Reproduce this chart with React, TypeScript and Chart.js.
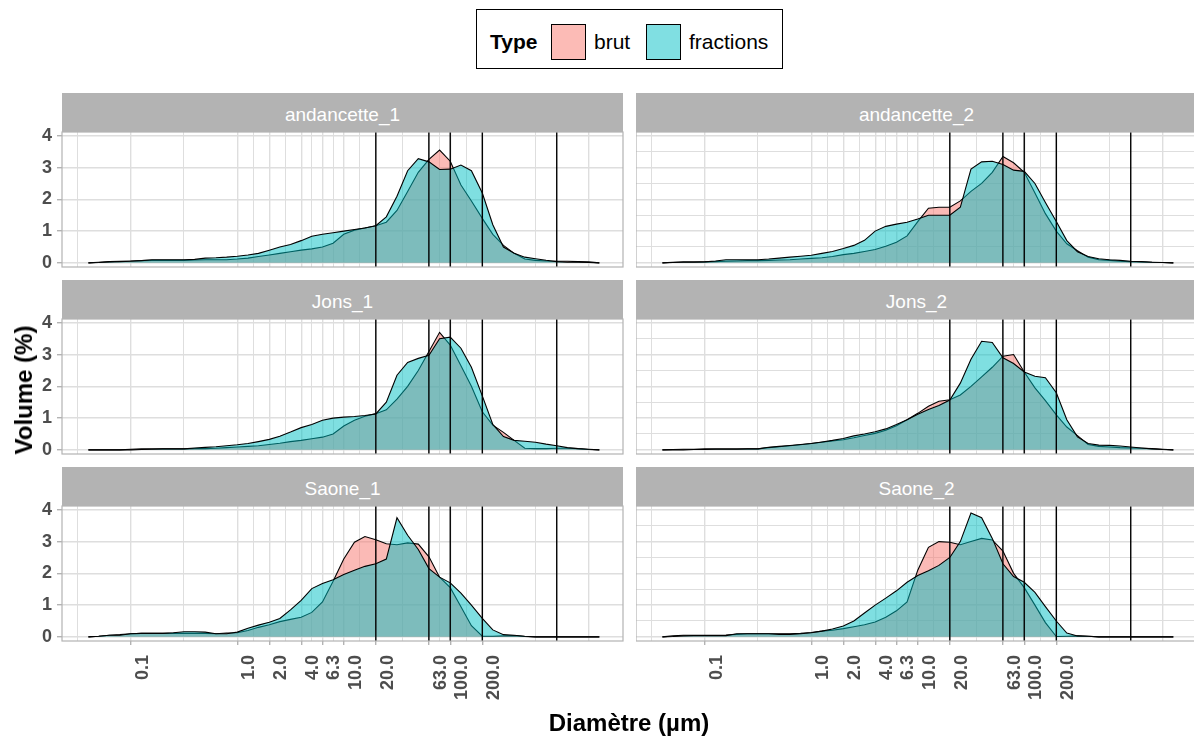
import React, { useEffect, useRef } from "react";
import { Chart, registerables } from "chart.js";

Chart.register(...registerables);
Chart.defaults.font.family = "'Liberation Sans', Arial, sans-serif";

// ---------- DATA ----------
const diameters = [
  0.04, 0.05, 0.063, 0.079, 0.1, 0.126, 0.158, 0.2, 0.251, 0.316,
  0.398, 0.5, 0.631, 0.794, 1.0, 1.26, 1.58, 2.0, 2.51, 3.16,
  3.98, 5.01, 6.31, 7.94, 10, 12.6, 15.8, 20, 25.1, 31.6,
  39.8, 50.1, 63.1, 79.4, 100, 126, 158, 200, 251, 316,
  398, 501, 631, 794, 1000, 1259, 1585, 1995, 2512,
];

const andancette1Brut = [
  0, 0.02, 0.04, 0.05, 0.06, 0.07, 0.08, 0.08, 0.08, 0.08,
  0.09, 0.1, 0.1, 0.1, 0.12, 0.15, 0.2, 0.25, 0.3, 0.35,
  0.4, 0.44, 0.5, 0.62, 0.9, 1.03, 1.1, 1.17, 1.28, 1.65,
  2.25, 2.85, 3.26, 3.55, 3.2, 2.45, 1.95, 1.4, 0.9, 0.55,
  0.3, 0.12, 0.08, 0.06, 0.05, 0.05, 0.04, 0.03, 0,
];
const andancette1Fractions = [
  0, 0.01, 0.03, 0.04, 0.05, 0.07, 0.1, 0.1, 0.1, 0.1,
  0.11, 0.15, 0.16, 0.18, 0.21, 0.25, 0.3, 0.4, 0.5, 0.58,
  0.7, 0.84, 0.9, 0.95, 1.0, 1.05, 1.1, 1.17, 1.45, 2.1,
  2.9, 3.28, 3.18, 2.94, 2.95, 3.08, 2.9, 2.2, 1.2, 0.5,
  0.3, 0.18, 0.13, 0.08, 0.04, 0.02, 0.02, 0.01, 0,
];

const andancette2Brut = [
  0, 0.02, 0.03, 0.03, 0.03, 0.04, 0.05, 0.06, 0.07, 0.07,
  0.08, 0.09, 0.1, 0.12, 0.14, 0.16, 0.2, 0.26, 0.3, 0.36,
  0.42, 0.52, 0.65, 0.85, 1.3, 1.72, 1.75, 1.75, 1.95, 2.25,
  2.5, 2.85, 3.35, 3.15, 2.85, 2.2, 1.55, 1.0, 0.6, 0.38,
  0.18, 0.1, 0.08, 0.05, 0.04, 0.03, 0.02, 0.01, 0,
];
const andancette2Fractions = [
  0, 0.01, 0.02, 0.02, 0.03, 0.06, 0.1, 0.1, 0.1, 0.1,
  0.12, 0.15, 0.18, 0.21, 0.24, 0.3, 0.36, 0.45, 0.55, 0.71,
  1.0, 1.15, 1.22, 1.28, 1.38, 1.5, 1.5, 1.5, 1.75, 2.95,
  3.18, 3.2, 3.1, 2.92, 2.88, 2.5, 1.9, 1.3, 0.7, 0.35,
  0.2, 0.13, 0.1, 0.08, 0.05, 0.04, 0.02, 0.01, 0,
];

const jons1Brut = [
  0, 0, 0, 0, 0.02, 0.03, 0.03, 0.03, 0.03, 0.03,
  0.04, 0.04, 0.05, 0.07, 0.09, 0.11, 0.13, 0.17, 0.21, 0.26,
  0.3, 0.35, 0.4, 0.5, 0.75, 0.93, 1.06, 1.14, 1.26, 1.6,
  2.0, 2.5, 3.1, 3.7, 3.3, 2.65, 2.0, 1.2, 0.78, 0.55,
  0.3, 0.05, 0.04, 0.04, 0.05, 0.05, 0.04, 0.01, 0,
];
const jons1Fractions = [
  0, 0, 0, 0, 0, 0.01, 0.02, 0.03, 0.03, 0.03,
  0.06, 0.08, 0.1, 0.13, 0.16, 0.2, 0.26, 0.33, 0.43, 0.56,
  0.7, 0.8, 0.93, 1.0, 1.03, 1.05, 1.08, 1.13, 1.5, 2.35,
  2.75, 2.88, 2.98, 3.5, 3.55, 3.2, 2.6, 1.7, 0.8, 0.42,
  0.3, 0.27, 0.24, 0.18, 0.13, 0.07, 0.04, 0.02, 0,
];

const jons2Brut = [
  0, 0.01, 0.02, 0.02, 0.03, 0.03, 0.03, 0.03, 0.03, 0.03,
  0.07, 0.1, 0.13, 0.16, 0.2, 0.24, 0.28, 0.32, 0.38, 0.45,
  0.52, 0.62, 0.76, 0.95, 1.15, 1.37, 1.53, 1.58, 1.73, 2.0,
  2.3, 2.6, 2.95, 3.0, 2.45, 1.95, 1.55, 1.1, 0.72, 0.45,
  0.17, 0.11, 0.09, 0.07, 0.06, 0.05, 0.04, 0.02, 0,
];
const jons2Fractions = [
  0, 0, 0, 0.01, 0.01, 0.02, 0.02, 0.02, 0.03, 0.03,
  0.08, 0.11, 0.14, 0.17, 0.2, 0.25, 0.3, 0.36, 0.44, 0.5,
  0.57, 0.66, 0.8, 0.95, 1.12, 1.27, 1.4, 1.57, 2.1, 2.85,
  3.42, 3.38, 2.9, 2.72, 2.45, 2.32, 2.27, 1.8, 0.95, 0.41,
  0.2, 0.15, 0.14, 0.12, 0.09, 0.06, 0.03, 0.01, 0,
];

const saone1Brut = [
  0, 0.02, 0.05, 0.07, 0.1, 0.11, 0.11, 0.11, 0.11, 0.11,
  0.11, 0.11, 0.1, 0.12, 0.13, 0.2, 0.3, 0.38, 0.48, 0.55,
  0.62, 0.77, 1.1, 1.75, 2.45, 2.98, 3.16, 3.06, 2.93, 2.9,
  2.96, 2.92, 2.52, 1.88, 1.55, 0.95, 0.35, 0.02, 0.02, 0.03,
  0.04, 0.01, 0, 0, 0, 0, 0, 0, 0,
];
const saone1Fractions = [
  0, 0.02, 0.05, 0.05, 0.1, 0.11, 0.11, 0.11, 0.13, 0.16,
  0.16, 0.15, 0.1, 0.1, 0.15, 0.27, 0.37, 0.46, 0.58, 0.85,
  1.15, 1.52, 1.68, 1.8, 1.96, 2.1, 2.22, 2.3, 2.45, 3.75,
  3.2, 2.75, 2.15, 1.88, 1.7, 1.38, 1.0, 0.58, 0.22, 0.07,
  0.05, 0.02, 0, 0, 0, 0, 0, 0, 0,
];

const saone2Brut = [
  0, 0.03, 0.05, 0.05, 0.05, 0.05, 0.06, 0.08, 0.1, 0.1,
  0.1, 0.1, 0.1, 0.11, 0.14, 0.18, 0.21, 0.26, 0.32, 0.38,
  0.47, 0.62, 0.82, 1.1, 2.1, 2.82, 3.0, 2.98, 2.9, 3.0,
  3.1, 3.05, 2.7, 2.0, 1.55, 1.0, 0.45, 0.01, 0.02, 0.03,
  0.02, 0, 0, 0, 0, 0, 0, 0, 0,
];
const saone2Fractions = [
  0, 0.01, 0.03, 0.04, 0.04, 0.04, 0.04, 0.1, 0.1, 0.1,
  0.1, 0.08, 0.08, 0.1, 0.13, 0.18, 0.25, 0.34, 0.5, 0.75,
  1.0, 1.22, 1.45, 1.72, 1.93, 2.08, 2.25, 2.5, 3.0, 3.9,
  3.75, 3.1, 2.3, 1.9, 1.72, 1.4, 0.95, 0.5, 0.12, 0.03,
  0.02, 0, 0, 0, 0, 0, 0, 0, 0,
];

const panelNames = ["andancette_1", "andancette_2", "Jons_1", "Jons_2", "Saone_1", "Saone_2"];
const brutSeries = [andancette1Brut, andancette2Brut, jons1Brut, jons2Brut, saone1Brut, saone2Brut];
const fractionSeries = [
  andancette1Fractions, andancette2Fractions, jons1Fractions,
  jons2Fractions, saone1Fractions, saone2Fractions,
];

const vLines = [20, 63, 100, 200, 1000];
const xLabeledBreaks = [0.1, 1, 2, 4, 6.3, 10, 20, 63, 100, 200];
const xTickLabels = ["0.1", "1.0", "2.0", "4.0", "6.3", "10.0", "20.0", "63.0", "100.0", "200.0"];
const xUnlabeledBreaks = [2000];
const xMinorBreaks = [0.0316, 0.316, 1.414, 2.828, 5.02, 7.94, 14.14, 35.5, 79.4, 141.4, 632.5];
const yBreaks = [0, 1, 2, 3, 4];
const yMinorBreaks = [0.5, 1.5, 2.5, 3.5];

const X_MIN = 0.0226;
const X_MAX = 4190;
const Y_MIN = -0.13;
const Y_MAX = 4.12;

// ---------- LAYOUT ----------
const COL_X = [62, 636];
const PANEL_W = 561;
const ROW_Y = [132, 319, 506];
const PANEL_H = 135;
const STRIP_H = 39;
const PAD = 16;
const Y_AXIS_W = 62;
const X_AXIS_H = 740 - (ROW_Y[2] + PANEL_H);
const EXTRA_R = 24;

const BRUT_FILL = "rgba(248,118,109,0.5)";
const FRAC_FILL = "rgba(0,191,196,0.5)";
const TICK_TEXT = "#4D4D4D";
const GRID = "#DEDEDE";
const BORDER = "#B3B3B3";

const panelBorder = {
  id: "panelBorder",
  afterDraw(chart: any) {
    const { ctx, chartArea: a } = chart;
    ctx.save();
    ctx.strokeStyle = BORDER;
    ctx.lineWidth = 1.2;
    ctx.strokeRect(a.left, a.top, a.right - a.left, a.bottom - a.top);
    ctx.restore();
  },
};

function isXMajor(v: number): boolean {
  return [...xLabeledBreaks, ...xUnlabeledBreaks].some((b) => Math.abs(b - v) / b < 1e-6);
}

function labelFor(v: number): string {
  const i = xLabeledBreaks.findIndex((b) => Math.abs(b - v) / b < 1e-6);
  return i >= 0 ? xTickLabels[i] : "";
}

function Panel({ index }: { index: number }) {
  const ref = useRef<HTMLCanvasElement | null>(null);
  const col = index % 2;
  const row = Math.floor(index / 2);
  const isBottom = row === 2;
  const isLeft = col === 0;
  const yW = isLeft ? Y_AXIS_W : 0;
  const width = yW + PANEL_W + EXTRA_R;
  const height = PAD + PANEL_H + (isBottom ? X_AXIS_H : PAD);
  const left = isLeft ? 0 : COL_X[1];
  const top = ROW_Y[row] - PAD;

  useEffect(() => {
    if (!ref.current) return;
    const xTicks = [...xLabeledBreaks, ...xUnlabeledBreaks, ...xMinorBreaks]
      .filter((v) => v >= X_MIN && v <= X_MAX)
      .sort((a, b) => a - b);
    const yTicks = [...yBreaks, ...yMinorBreaks].sort((a, b) => a - b);
    const brut = brutSeries[index];
    const frac = fractionSeries[index];

    const chart = new Chart(ref.current, {
      type: "line",
      data: {
        datasets: [
          ...vLines.map((v) => ({
            label: "v" + v,
            data: [
              { x: v, y: Y_MIN },
              { x: v, y: Y_MAX },
            ],
            borderColor: "#000000",
            borderWidth: 1.4,
            pointRadius: 0,
            fill: false,
            order: 0,
          })),
          {
            label: "fractions",
            data: diameters.map((d, i) => ({ x: d, y: frac[i] })),
            borderColor: "#000000",
            borderWidth: 1.1,
            backgroundColor: FRAC_FILL,
            fill: "origin",
            pointRadius: 0,
            tension: 0,
            order: 1,
          },
          {
            label: "brut",
            data: diameters.map((d, i) => ({ x: d, y: brut[i] })),
            borderColor: "#000000",
            borderWidth: 1.1,
            backgroundColor: BRUT_FILL,
            fill: "origin",
            pointRadius: 0,
            tension: 0,
            order: 2,
          },
        ] as any,
      },
      options: {
        animation: false,
        responsive: false,
        devicePixelRatio: 1,
        events: [],
        layout: { padding: { top: PAD, bottom: isBottom ? 0 : PAD, left: 0, right: EXTRA_R } },
        plugins: { legend: { display: false }, tooltip: { enabled: false } },
        scales: {
          x: {
            type: "logarithmic",
            min: X_MIN,
            max: X_MAX,
            bounds: "data",
            afterBuildTicks: (scale: any) => {
              scale.ticks = xTicks.map((v) => ({ value: v }));
            },
            afterFit: (scale: any) => {
              scale.height = isBottom ? X_AXIS_H : 0;
            },
            border: { display: false },
            grid: {
              color: GRID,
              lineWidth: (ctx: any) => (ctx.tick && isXMajor(ctx.tick.value) ? 1.4 : 1),
              drawTicks: isBottom,
              tickLength: 4,
              tickColor: (ctx: any) =>
                ctx.tick && labelFor(ctx.tick.value) !== "" ? BORDER : "rgba(0,0,0,0)",
            },
            ticks: {
              display: isBottom,
              autoSkip: false,
              minRotation: 90,
              maxRotation: 90,
              labelOffset: 12,
              padding: 10,
              color: TICK_TEXT,
              font: { size: 18, weight: "bold" },
              callback: (value: any) => labelFor(Number(value)),
            },
          },
          y: {
            type: "linear",
            min: Y_MIN,
            max: Y_MAX,
            bounds: "data",
            afterBuildTicks: (scale: any) => {
              scale.ticks = yTicks.map((v) => ({ value: v }));
            },
            afterFit: (scale: any) => {
              scale.width = yW;
            },
            border: { display: false },
            grid: {
              color: GRID,
              lineWidth: (ctx: any) => (ctx.tick && Number.isInteger(ctx.tick.value) ? 1.4 : 1),
              drawTicks: isLeft,
              tickLength: 5,
              tickColor: (ctx: any) =>
                ctx.tick && Number.isInteger(ctx.tick.value) ? BORDER : "rgba(0,0,0,0)",
            },
            ticks: {
              display: isLeft,
              padding: 5,
              color: TICK_TEXT,
              font: { size: 18, weight: "bold" },
              callback: (value: any) => (Number.isInteger(Number(value)) ? String(value) : ""),
            },
          },
        },
      } as any,
      plugins: [panelBorder],
    });
    return () => chart.destroy();
  }, [index]);

  return (
    <>
      <div
        style={{
          position: "absolute",
          left: COL_X[col],
          top: ROW_Y[row] - STRIP_H,
          width: PANEL_W,
          height: STRIP_H,
          background: BORDER,
          color: "#ffffff",
          fontSize: 19,
          display: "flex",
          alignItems: "center",
          justifyContent: "center",
          paddingTop: 4,
          boxSizing: "border-box",
        }}
      >
        {panelNames[index]}
      </div>
      <canvas
        ref={ref}
        width={width}
        height={height}
        style={{ position: "absolute", left, top, width, height, display: "block" }}
      />
    </>
  );
}

export default function App() {
  const FONT = "'Liberation Sans', Arial, sans-serif";
  return (
    <div
      style={{
        position: "absolute",
        left: 0,
        top: 0,
        width: 1194,
        height: 740,
        overflow: "hidden",
        background: "#ffffff",
        fontFamily: FONT,
      }}
    >
      {/* Legend */}
      <div
        style={{
          position: "absolute",
          left: 476,
          top: 9,
          width: 307,
          height: 60,
          border: "1px solid #000",
          boxSizing: "border-box",
        }}
      >
        <div style={{ position: "absolute", left: 13, top: 20, fontSize: 21, fontWeight: "bold", lineHeight: "24px" }}>Type</div>
        <div style={{ position: "absolute", left: 74, top: 14, width: 35, height: 36, background: "#FCBBB6", border: "1px solid #000", boxSizing: "border-box" }} />
        <div style={{ position: "absolute", left: 117, top: 20, fontSize: 21, lineHeight: "24px" }}>brut</div>
        <div style={{ position: "absolute", left: 169, top: 14, width: 35, height: 36, background: "#80DFE2", border: "1px solid #000", boxSizing: "border-box" }} />
        <div style={{ position: "absolute", left: 212, top: 20, fontSize: 21, lineHeight: "24px" }}>fractions</div>
      </div>

      {[0, 1, 2, 3, 4, 5].map((i) => (
        <Panel key={i} index={i} />
      ))}

      {/* Axis titles */}
      <div
        style={{
          position: "absolute",
          left: 24,
          top: 390,
          transform: "translate(-50%, -50%) rotate(-90deg)",
          fontSize: 24,
          fontWeight: "bold",
          whiteSpace: "nowrap",
          color: "#000",
        }}
      >
        Volume (%)
      </div>
      <div
        style={{
          position: "absolute",
          left: 629,
          top: 723,
          transform: "translate(-50%, -50%)",
          fontSize: 24,
          fontWeight: "bold",
          whiteSpace: "nowrap",
          color: "#000",
        }}
      >
        Diamètre (µm)
      </div>
    </div>
  );
}
